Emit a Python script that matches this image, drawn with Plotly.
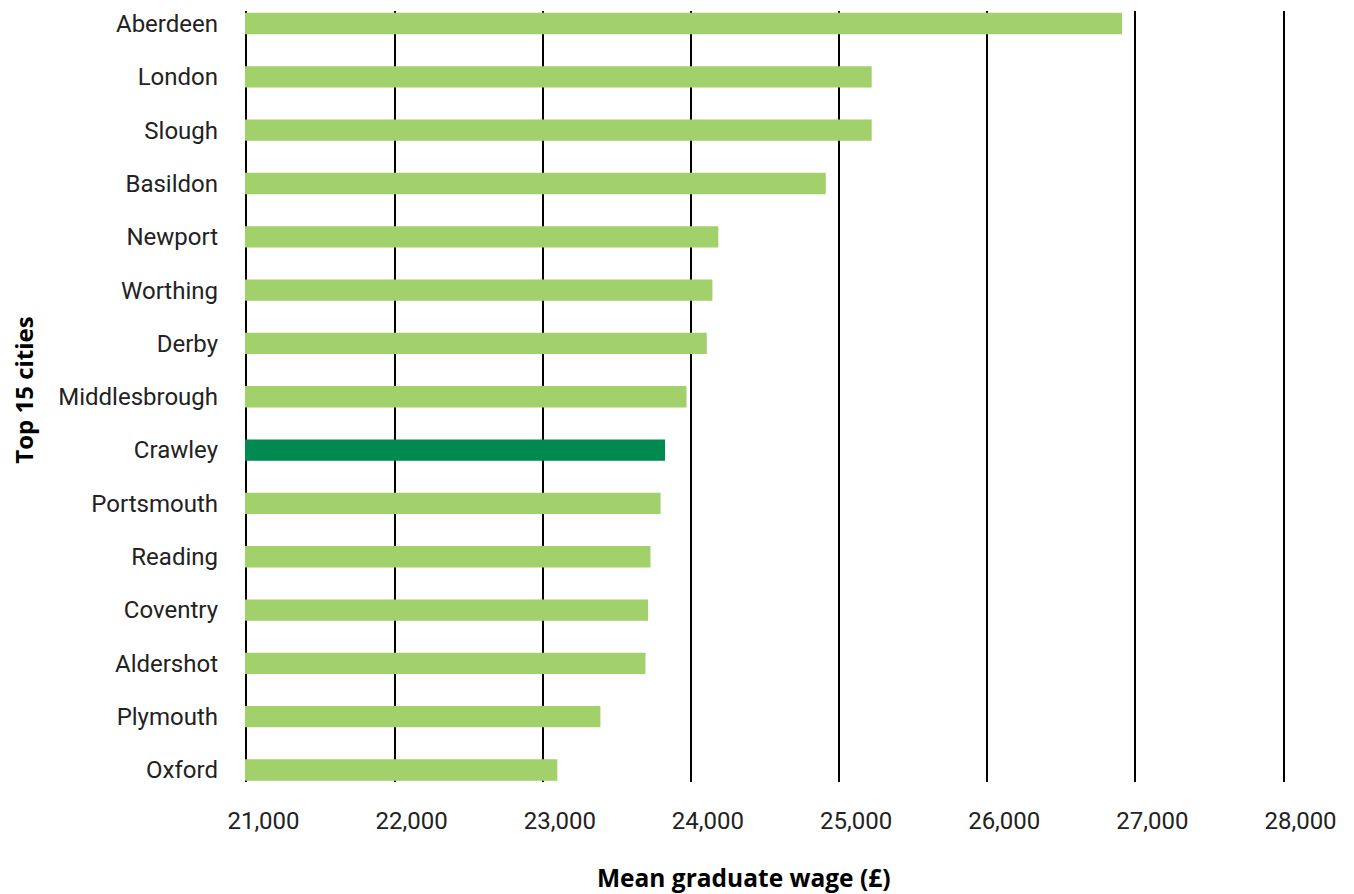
import plotly.graph_objects as go

cities = ["Aberdeen", "London", "Slough", "Basildon", "Newport", "Worthing", "Derby",
          "Middlesbrough", "Crawley", "Portsmouth", "Reading", "Coventry", "Aldershot",
          "Plymouth", "Oxford"]
wages = [26910, 25220, 25220, 24910, 24185, 24145, 24107, 23970, 23825, 23795, 23727,
         23711, 23693, 23389, 23098]
highlight = "Crawley"
tick_vals = [21000, 22000, 23000, 24000, 25000, 26000, 27000, 28000]
tick_text = ["21,000", "22,000", "23,000", "24,000", "25,000", "26,000", "27,000", "28,000"]

LIGHT = "#A2D06A"
DARK = "#008A52"
colors = [DARK if c == highlight else LIGHT for c in cities]

fig = go.Figure(go.Bar(
    y=cities, x=wages, orientation="h",
    marker=dict(color=colors, line=dict(width=0)),
    width=0.4, base=0,
))

tick_font = dict(family="Roboto", size=24, color="#222222", weight=400)

# page body has an 8px margin; work in figure pixels
OFF = 8
W, H = 1354 - OFF, 894 - OFF
X0, X1 = 246 - OFF, 1284 - OFF   # pixel of 21000 and 28000
Y0, Y1 = 11 - OFF, 782 - OFF     # top and bottom of plot area
pad = 10
ppu = (X1 - X0) / 7000
left = X0 - pad * ppu
right = X1 + pad * ppu

fig.update_layout(
    width=W, height=H,
    margin=dict(l=left, r=W - right, t=Y0, b=H - Y1, autoexpand=False),
    paper_bgcolor="white", plot_bgcolor="white",
    showlegend=False,
    xaxis=dict(
        range=[21000 - pad, 28000 + pad], tickvals=tick_vals, ticktext=tick_text,
        showgrid=True, gridcolor="#000000", gridwidth=1.5,
        zeroline=False, showline=False, ticks="", automargin=False,
        tickfont=tick_font, ticklabelshift=17, ticklabelstandoff=22,
    ),
    yaxis=dict(
        type="category", categoryorder="array", categoryarray=cities,
        range=[14.225, -0.235], showgrid=False, zeroline=False, showline=False,
        ticks="", tickfont=tick_font, ticklabelstandoff=26, automargin=False,
    ),
    annotations=[
        dict(text="<b>Mean graduate wage (£)</b>", xref="paper", yref="paper",
             x=(744 - OFF - left) / (right - left), y=-(877 - 782) / (Y1 - Y0),
             xanchor="center", yanchor="middle", showarrow=False,
             font=dict(family="Open Sans", size=24.5, color="#000000")),
        dict(text="<b>Top 15 cities</b>", xref="paper", yref="paper",
             x=-(left - (22 - OFF)) / (right - left), y=(782 - 390) / (Y1 - Y0),
             xanchor="center", yanchor="middle", showarrow=False, textangle=-90,
             font=dict(family="Open Sans", size=24, color="#000000")),
    ],
)

fig.write_html("out.html")
